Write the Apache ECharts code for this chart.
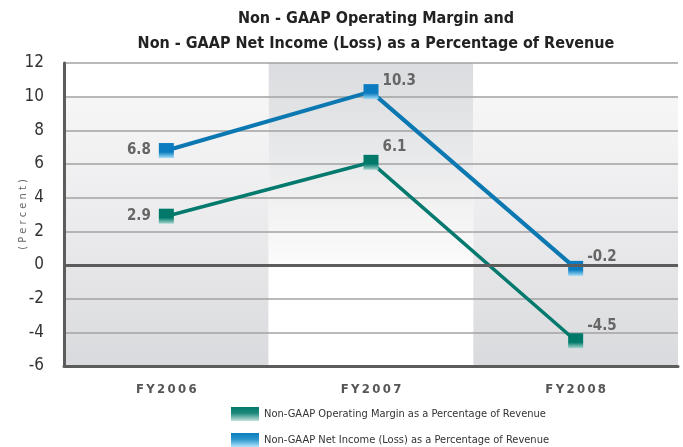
<!DOCTYPE html>
<html>
<head>
<meta charset="utf-8">
<title>Non-GAAP Margins</title>
<script src="https://cdn.jsdelivr.net/npm/echarts@6/dist/echarts.min.js"></script>
<style>
  html, body { margin: 0; padding: 0; background: #fff; }
  #chart { width: 683px; height: 447px; }
</style>
</head>
<body>
<div id="chart"></div>
<script>
// data
var years = ['FY2006', 'FY2007', 'FY2008'];
var operatingMargin = [2.9, 6.1, -4.5];
var netIncome = [6.8, 10.3, -0.2];
var yTicks = [-6, -4, -2, 0, 2, 4, 6, 8, 10, 12];
var seriesNames = [
  'Non-GAAP Operating Margin as a Percentage of Revenue',
  'Non-GAAP Net Income (Loss) as a Percentage of Revenue'
];

var FONT = '"DejaVu Sans Condensed", "Liberation Sans Narrow", sans-serif';
var AXIS = '#5c5c5c';

function grad(stops) {
  return new echarts.graphic.LinearGradient(0, 0, 0, 1, stops.map(function (s) {
    return { offset: s[0], color: s[1] };
  }));
}

var tealMark = grad([[0, '#00796b'], [0.6, '#00796b'], [1, '#a6d6cf']]);
var blueMark = grad([[0, '#0b7cbf'], [0.6, '#0b7cbf'], [1, '#a3def8']]);

// first point label sits on the left, others up-right
function withLabels(arr) {
  return arr.map(function (v, i) {
    if (i === 0) {
      return { value: v, label: { position: 'left', distance: 8, offset: [0, 0] } };
    }
    return v;
  });
}

function legendAt(top, name, color) {
  return {
    left: 226,
    top: top,
    itemWidth: 28,
    itemHeight: 14,
    icon: 'rect',
    selectedMode: false,
    textStyle: { fontFamily: FONT, fontSize: 11, color: '#333' },
    data: [{ name: name, itemStyle: { color: color } }]
  };
}

var myChart = echarts.init(document.getElementById('chart'));
var option = {
  animation: false,
  title: {
    text: 'Non - GAAP Operating Margin and\nNon - GAAP Net Income (Loss) as a Percentage of Revenue',
    left: 371,
    textAlign: 'center',
    top: 1,
    textStyle: { fontFamily: FONT, fontSize: 16, fontWeight: 'bold', color: '#222', lineHeight: 25 }
  },
  legend: [
    legendAt(402, seriesNames[0], grad([[0, '#00796b'], [0.45, '#1f8a7d'], [1, '#c3e3dd']])),
    legendAt(428, seriesNames[1], grad([[0, '#0a7dbc'], [0.45, '#2a95cc'], [1, '#b3e5fb']]))
  ],
  grid: { left: 64, right: 5, top: 63, bottom: 81, outerBoundsMode: 'none', containLabel: false },
  xAxis: {
    type: 'category',
    data: years,
    boundaryGap: true,
    axisLine: { onZero: false, lineStyle: { color: AXIS, width: 3 } },
    axisTick: { show: false },
    axisLabel: {
      margin: 17,
      fontFamily: FONT,
      fontSize: 13,
      fontWeight: 'bold',
      color: '#555',
      formatter: function (v) { return v.split('').join('\u2009'); }
    }
  },
  yAxis: {
    type: 'value',
    min: yTicks[0],
    max: yTicks[yTicks.length - 1],
    interval: 2,
    name: '( P e r c e n t )',
    nameLocation: 'middle',
    nameGap: 35,
    nameRotate: 90,
    nameMoveOverlap: false,
    nameTextStyle: { fontFamily: FONT, fontSize: 11, color: '#666' },
    axisLine: { show: true, lineStyle: { color: AXIS, width: 3 } },
    axisTick: { show: false },
    axisLabel: { margin: 20, fontFamily: FONT, fontSize: 17, color: '#333' },
    splitLine: { lineStyle: { color: '#a2a2a2', width: 1.5 } }
  },
  series: [
    {
      type: 'custom',
      silent: true,
      z: -1,
      data: years.map(function (y, i) { return [i]; }),
      renderItem: function (params, api) {
        var i = api.value(0);
        var top = api.coord([i, yTicks[yTicks.length - 1]]);
        var bot = api.coord([i, yTicks[0]]);
        var w = api.size([1, 0])[0];
        var fill = (i % 2 === 0)
          ? grad([[0, '#ffffff'], [0.108, '#ffffff'], [0.112, '#f6f6f7'], [0.5, '#ececee'], [1, '#d9dadd']])
          : grad([[0, '#dbdcdf'], [0.3, '#e8e9ea'], [0.5, '#f3f3f4'], [0.66, '#fbfbfb'], [0.68, '#ffffff'], [1, '#ffffff']]);
        return {
          type: 'rect',
          shape: { x: top[0] - w / 2, y: top[1], width: w, height: bot[1] - top[1] },
          style: { fill: fill }
        };
      }
    },
    {
      name: seriesNames[0],
      type: 'line',
      data: withLabels(operatingMargin),
      symbol: 'rect',
      symbolSize: 15,
      lineStyle: { color: '#037a6d', width: 3.5 },
      itemStyle: { color: tealMark },
      label: {
        show: true,
        position: 'right',
        distance: 4,
        offset: [0, -15],
        fontFamily: FONT,
        fontSize: 15,
        fontWeight: 'bold',
        color: '#666'
      },
      markLine: {
        silent: true,
        symbol: 'none',
        label: { show: false },
        lineStyle: { color: AXIS, width: 3, type: 'solid' },
        data: [{ yAxis: 0 }]
      },
      z: 3
    },
    {
      name: seriesNames[1],
      type: 'line',
      data: withLabels(netIncome),
      symbol: 'rect',
      symbolSize: 15,
      lineStyle: { color: '#0b78b2', width: 4 },
      itemStyle: { color: blueMark },
      label: {
        show: true,
        position: 'right',
        distance: 4,
        offset: [0, -11],
        fontFamily: FONT,
        fontSize: 15,
        fontWeight: 'bold',
        color: '#666'
      },
      z: 4
    }
  ]
};
myChart.setOption(option);
</script>
</body>
</html>
